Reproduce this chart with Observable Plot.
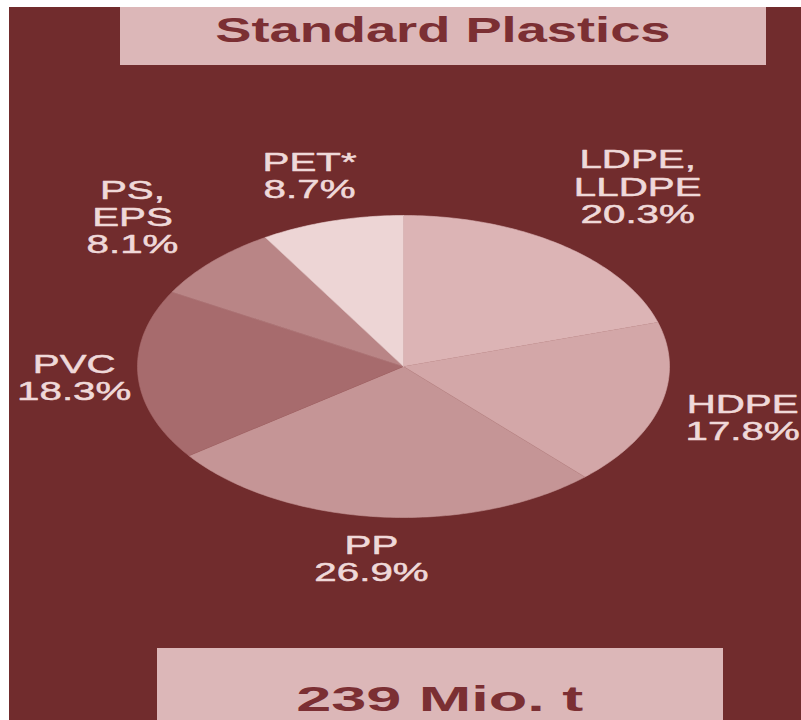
<!DOCTYPE html>
<html>
<head>
<meta charset="utf-8">
<script src="https://cdn.jsdelivr.net/npm/d3@7"></script>
<script src="https://cdn.jsdelivr.net/npm/@observablehq/plot@0.6"></script>
<style>
  html, body { margin: 0; padding: 0; background: #ffffff; }
  #wrap { position: relative; width: 801px; height: 720px; overflow: hidden; font-family: "Liberation Sans", Arial, sans-serif; }
  #bg { position: absolute; left: 9px; top: 7px; right: 0; bottom: 0; background: #712c2d; }
  .box { position: absolute; background: #dcb7b8; }
  .boxtext { position: absolute; left: 0; right: 0; text-align: center; font-weight: bold; font-size: 35px; line-height: 40px; color: #7b2f33; white-space: nowrap; }
  .boxtext span { display: inline-block; }
  #chart { position: absolute; left: 0; top: 0; }
</style>
</head>
<body>
<div id="wrap">
  <div id="bg"></div>
  <div class="box" style="left:120px;top:7px;width:646px;height:58px;">
    <div class="boxtext" style="top:3px;"><span id="title" style="transform:scaleX(1.55)">Standard Plastics</span></div>
  </div>
  <div id="chart"></div>
  <div class="box" style="left:157px;top:648px;width:566px;height:80px;">
    <div class="boxtext" style="top:31px;"><span id="total" style="transform:scaleX(1.8)">239 Mio. t</span></div>
  </div>
</div>
<script>
// ---- data ----
const categories = ["LDPE,\nLLDPE", "HDPE", "PP", "PVC", "PS,\nEPS", "PET*"];
const shares = [20.3, 17.8, 26.9, 18.3, 8.1, 8.7];
const titleText = "Standard Plastics";
const totalText = "239 Mio. t";

// ---- styles / layout ----
const colors = ["#dcb4b5", "#d3a7a8", "#c59596", "#a76b6d", "#b98586", "#edd5d5"];
const labelRadius = [1.48, 1.32, 1.28, 1.24, 1.42, 1.31];

document.getElementById("title").textContent = titleText;
document.getElementById("total").textContent = totalText;

const total = d3.sum(shares);
const slices = [];
let cum = 0;
shares.forEach((v, i) => {
  const a0 = cum / total * 2 * Math.PI;
  cum += v;
  const a1 = cum / total * 2 * Math.PI;
  const mid = (a0 + a1) / 2;
  slices.push({
    i, a0, a1, color: colors[i],
    text: categories[i] + "\n" + d3.format(".1f")(v) + "%",
    lx: labelRadius[i] * Math.sin(mid),
    ly: labelRadius[i] * Math.cos(mid)
  });
});

// outline of each slice (centre + arc), derived from the shares
const pts = [];
slices.forEach(s => {
  pts.push({i: s.i, u: 0, v: 0, color: s.color});
  const n = Math.max(8, Math.ceil((s.a1 - s.a0) / (Math.PI / 180)));
  for (let k = 0; k <= n; k++) {
    const t = s.a0 + (s.a1 - s.a0) * k / n;
    pts.push({i: s.i, u: Math.sin(t), v: Math.cos(t), color: s.color});
  }
});

const chart = Plot.plot({
  width: 801,
  height: 720,
  margin: 0,
  x: {domain: [-1, 1], range: [137, 669], axis: null},
  y: {domain: [-1, 1], range: [517, 215], axis: null},
  color: {type: "identity"},
  style: {background: "transparent", overflow: "visible"},
  marks: [
    Plot.line(pts, {x: "u", y: "v", z: "i", fill: "color", stroke: "color", strokeWidth: 0.6, curve: "linear"}),
    Plot.text(slices, {
      x: "lx", y: "ly", text: "text",
      fill: "#efd9d9",
      stroke: "#efd9d9",
      strokeWidth: 0.5,
      fontSize: 26,
      fontFamily: "Liberation Sans, Arial, sans-serif",
      lineHeight: 1.04,
      textAnchor: "middle",
      lineAnchor: "middle"
    })
  ]
});

document.getElementById("chart").appendChild(chart);

// stretch the labels horizontally like the reference
chart.querySelectorAll('g[aria-label="text"] text').forEach(t => {
  const tr = t.getAttribute("transform");
  if (tr) {
    t.setAttribute("transform", tr + " scale(1.55,1)");
  } else {
    const x = +t.getAttribute("x") || 0, y = +t.getAttribute("y") || 0;
    t.setAttribute("x", 0); t.setAttribute("y", 0);
    t.setAttribute("transform", `translate(${x},${y}) scale(1.55,1)`);
  }
});
</script>
</body>
</html>
